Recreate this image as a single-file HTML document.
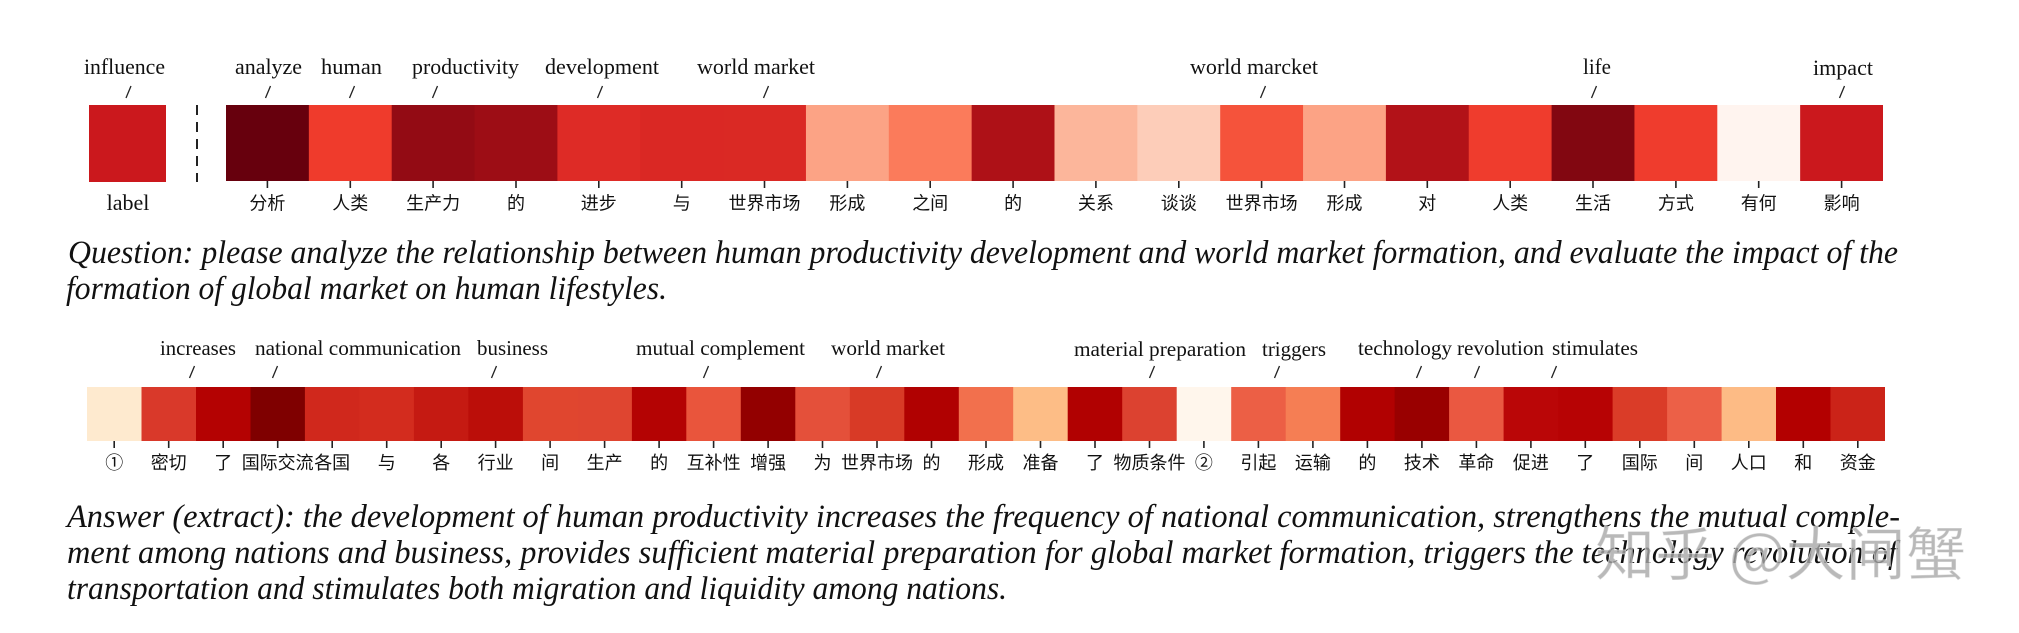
<!DOCTYPE html>
<html><head><meta charset="utf-8"><style>
html,body{margin:0;padding:0;background:#fff;}
svg{display:block;}
.lab{font-family:"Liberation Serif",serif;font-size:22px;fill:#111;}
.lab2{font-family:"Liberation Serif",serif;font-size:21px;fill:#111;}
.cn{font-family:"Liberation Sans","Noto Sans CJK SC",sans-serif;font-size:18px;fill:#111;text-anchor:middle;}
.main{font-family:"Liberation Serif",serif;font-style:italic;font-size:32.5px;fill:#111;}
.sl{stroke:#222;stroke-width:1.3;}
.tk{stroke:#222;stroke-width:1.6;}
</style></head><body>
<svg width="2019" height="633" viewBox="0 0 2019 633" xmlns="http://www.w3.org/2000/svg">
<rect width="2019" height="633" fill="#fff"/>

<text class="lab" x="84" y="74" textLength="81" lengthAdjust="spacingAndGlyphs">influence</text>
<text class="lab" x="235" y="74" textLength="67" lengthAdjust="spacingAndGlyphs">analyze</text>
<text class="lab" x="321" y="74" textLength="61" lengthAdjust="spacingAndGlyphs">human</text>
<text class="lab" x="412" y="74" textLength="107" lengthAdjust="spacingAndGlyphs">productivity</text>
<text class="lab" x="545" y="74" textLength="114" lengthAdjust="spacingAndGlyphs">development</text>
<text class="lab" x="697" y="74" textLength="118" lengthAdjust="spacingAndGlyphs">world market</text>
<text class="lab" x="1190" y="74" textLength="128" lengthAdjust="spacingAndGlyphs">world marcket</text>
<text class="lab" x="1583" y="74" textLength="28" lengthAdjust="spacingAndGlyphs">life</text>
<text class="lab" x="1813" y="75" textLength="60" lengthAdjust="spacingAndGlyphs">impact</text>

<g class="sl">
<line x1="131" y1="86" x2="126" y2="98"/>
<line x1="270.5" y1="86" x2="265.5" y2="98"/>
<line x1="354.5" y1="86" x2="349.5" y2="98"/>
<line x1="437.5" y1="86" x2="432.5" y2="98"/>
<line x1="602.5" y1="86" x2="597.5" y2="98"/>
<line x1="768.5" y1="86" x2="763.5" y2="98"/>
<line x1="1265.5" y1="86" x2="1260.5" y2="98"/>
<line x1="1596.5" y1="86" x2="1591.5" y2="98"/>
<line x1="1844.5" y1="86" x2="1839.5" y2="98"/>
</g>

<rect x="89" y="105" width="77" height="77" fill="#cb181d"/>
<line x1="197" y1="105" x2="197" y2="182" stroke="#222" stroke-width="2" stroke-dasharray="10,7"/>

<g>
<rect x="226" y="105" width="83.4" height="76" fill="#67000d"/>
<rect x="308.85" y="105" width="83.4" height="76" fill="#ef3b2c"/>
<rect x="391.7" y="105" width="83.4" height="76" fill="#930b14"/>
<rect x="474.55" y="105" width="83.4" height="76" fill="#9d0d15"/>
<rect x="557.4" y="105" width="83.4" height="76" fill="#de2b26"/>
<rect x="640.25" y="105" width="83.4" height="76" fill="#da2824"/>
<rect x="723.1" y="105" width="83.4" height="76" fill="#da2924"/>
<rect x="805.95" y="105" width="83.4" height="76" fill="#fca385"/>
<rect x="888.8" y="105" width="83.4" height="76" fill="#fb7b5b"/>
<rect x="971.65" y="105" width="83.4" height="76" fill="#ae1117"/>
<rect x="1054.5" y="105" width="83.4" height="76" fill="#fcb69b"/>
<rect x="1137.35" y="105" width="83.4" height="76" fill="#fdcdb9"/>
<rect x="1220.2" y="105" width="83.4" height="76" fill="#f5533b"/>
<rect x="1303.05" y="105" width="83.4" height="76" fill="#fca385"/>
<rect x="1385.9" y="105" width="83.4" height="76" fill="#b21218"/>
<rect x="1468.75" y="105" width="83.4" height="76" fill="#ef3c2d"/>
<rect x="1551.6" y="105" width="83.4" height="76" fill="#820711"/>
<rect x="1634.45" y="105" width="83.4" height="76" fill="#ef3c2d"/>
<rect x="1717.3" y="105" width="83.4" height="76" fill="#fff4ef"/>
<rect x="1800.15" y="105" width="82.85" height="76" fill="#cb181d"/>
</g>

<g class="tk">
<line x1="267.4" y1="181" x2="267.4" y2="188"/>
<line x1="350.3" y1="181" x2="350.3" y2="188"/>
<line x1="433.1" y1="181" x2="433.1" y2="188"/>
<line x1="516" y1="181" x2="516" y2="188"/>
<line x1="598.8" y1="181" x2="598.8" y2="188"/>
<line x1="681.7" y1="181" x2="681.7" y2="188"/>
<line x1="764.5" y1="181" x2="764.5" y2="188"/>
<line x1="847.4" y1="181" x2="847.4" y2="188"/>
<line x1="930.2" y1="181" x2="930.2" y2="188"/>
<line x1="1013.1" y1="181" x2="1013.1" y2="188"/>
<line x1="1095.9" y1="181" x2="1095.9" y2="188"/>
<line x1="1178.8" y1="181" x2="1178.8" y2="188"/>
<line x1="1261.6" y1="181" x2="1261.6" y2="188"/>
<line x1="1344.5" y1="181" x2="1344.5" y2="188"/>
<line x1="1427.3" y1="181" x2="1427.3" y2="188"/>
<line x1="1510.2" y1="181" x2="1510.2" y2="188"/>
<line x1="1593" y1="181" x2="1593" y2="188"/>
<line x1="1675.9" y1="181" x2="1675.9" y2="188"/>
<line x1="1758.7" y1="181" x2="1758.7" y2="188"/>
<line x1="1841.6" y1="181" x2="1841.6" y2="188"/>
</g>

<text class="lab" x="128" y="210" text-anchor="middle">label</text>
<g class="cn">
<text x="267.4" y="209.5">分析</text>
<text x="350.3" y="209.5">人类</text>
<text x="433.1" y="209.5">生产力</text>
<text x="516" y="209.5">的</text>
<text x="598.8" y="209.5">进步</text>
<text x="681.7" y="209.5">与</text>
<text x="764.5" y="209.5">世界市场</text>
<text x="847.4" y="209.5">形成</text>
<text x="930.2" y="209.5">之间</text>
<text x="1013.1" y="209.5">的</text>
<text x="1095.9" y="209.5">关系</text>
<text x="1178.8" y="209.5">谈谈</text>
<text x="1261.6" y="209.5">世界市场</text>
<text x="1344.5" y="209.5">形成</text>
<text x="1427.3" y="209.5">对</text>
<text x="1510.2" y="209.5">人类</text>
<text x="1593" y="209.5">生活</text>
<text x="1675.9" y="209.5">方式</text>
<text x="1758.7" y="209.5">有何</text>
<text x="1841.6" y="209.5">影响</text>
</g>

<text class="main" x="68" y="263" textLength="1830" lengthAdjust="spacingAndGlyphs">Question: please analyze the relationship between human productivity development and world market formation, and evaluate the impact of the</text>
<text class="main" x="66" y="299" textLength="601" lengthAdjust="spacingAndGlyphs">formation of global market on human lifestyles.</text>

<text class="lab2" x="160" y="355" textLength="76" lengthAdjust="spacingAndGlyphs">increases</text>
<text class="lab2" x="255" y="355" textLength="206" lengthAdjust="spacingAndGlyphs">national communication</text>
<text class="lab2" x="477" y="355" textLength="71" lengthAdjust="spacingAndGlyphs">business</text>
<text class="lab2" x="636" y="355" textLength="169" lengthAdjust="spacingAndGlyphs">mutual complement</text>
<text class="lab2" x="831" y="355" textLength="114" lengthAdjust="spacingAndGlyphs">world market</text>
<text class="lab2" x="1074" y="356" textLength="172" lengthAdjust="spacingAndGlyphs">material preparation</text>
<text class="lab2" x="1262" y="356" textLength="64" lengthAdjust="spacingAndGlyphs">triggers</text>
<text class="lab2" x="1358" y="355" textLength="94" lengthAdjust="spacingAndGlyphs">technology</text>
<text class="lab2" x="1457" y="355" textLength="87" lengthAdjust="spacingAndGlyphs">revolution</text>
<text class="lab2" x="1552" y="355" textLength="86" lengthAdjust="spacingAndGlyphs">stimulates</text>

<g class="sl">
<line x1="194.5" y1="366" x2="189.5" y2="378"/>
<line x1="277.5" y1="366" x2="272.5" y2="378"/>
<line x1="496.5" y1="366" x2="491.5" y2="378"/>
<line x1="708.5" y1="366" x2="703.5" y2="378"/>
<line x1="881.5" y1="366" x2="876.5" y2="378"/>
<line x1="1154.5" y1="366" x2="1149.5" y2="378"/>
<line x1="1279.5" y1="366" x2="1274.5" y2="378"/>
<line x1="1421.5" y1="366" x2="1416.5" y2="378"/>
<line x1="1479.5" y1="366" x2="1474.5" y2="378"/>
<line x1="1556.5" y1="366" x2="1551.5" y2="378"/>
</g>

<g>
<rect x="87" y="387" width="55" height="54" fill="#feeacf"/>
<rect x="141.5" y="387" width="55" height="54" fill="#d9392a"/>
<rect x="196" y="387" width="55" height="54" fill="#b40202"/>
<rect x="250.5" y="387" width="55" height="54" fill="#7f0000"/>
<rect x="304.9" y="387" width="55" height="54" fill="#d0281c"/>
<rect x="359.4" y="387" width="55" height="54" fill="#d32c1e"/>
<rect x="413.9" y="387" width="55" height="54" fill="#c51a12"/>
<rect x="468.4" y="387" width="55" height="54" fill="#bb0e09"/>
<rect x="522.9" y="387" width="55" height="54" fill="#e0462f"/>
<rect x="577.4" y="387" width="55" height="54" fill="#df4530"/>
<rect x="631.9" y="387" width="55" height="54" fill="#b40303"/>
<rect x="686.3" y="387" width="55" height="54" fill="#e9553c"/>
<rect x="740.8" y="387" width="55" height="54" fill="#930000"/>
<rect x="795.3" y="387" width="55" height="54" fill="#e4503a"/>
<rect x="849.8" y="387" width="55" height="54" fill="#d83a26"/>
<rect x="904.3" y="387" width="55" height="54" fill="#b00101"/>
<rect x="958.8" y="387" width="55" height="54" fill="#f2704d"/>
<rect x="1013.2" y="387" width="55" height="54" fill="#fdbd86"/>
<rect x="1067.7" y="387" width="55" height="54" fill="#b10101"/>
<rect x="1122.2" y="387" width="55" height="54" fill="#dc4230"/>
<rect x="1176.7" y="387" width="55" height="54" fill="#fff6ec"/>
<rect x="1231.2" y="387" width="55" height="54" fill="#ec5f45"/>
<rect x="1285.7" y="387" width="55" height="54" fill="#f57e54"/>
<rect x="1340.2" y="387" width="55" height="54" fill="#b10101"/>
<rect x="1394.6" y="387" width="55" height="54" fill="#990000"/>
<rect x="1449.1" y="387" width="55" height="54" fill="#ea5841"/>
<rect x="1503.6" y="387" width="55" height="54" fill="#ba0607"/>
<rect x="1558.1" y="387" width="55" height="54" fill="#b70304"/>
<rect x="1612.6" y="387" width="55" height="54" fill="#da3c28"/>
<rect x="1667.1" y="387" width="55" height="54" fill="#ec6047"/>
<rect x="1721.6" y="387" width="55" height="54" fill="#fdbb85"/>
<rect x="1776" y="387" width="55" height="54" fill="#b30000"/>
<rect x="1830.5" y="387" width="54.5" height="54" fill="#cb2318"/>
</g>

<g class="tk">
<line x1="114.2" y1="441" x2="114.2" y2="448"/>
<line x1="168.7" y1="441" x2="168.7" y2="448"/>
<line x1="223.2" y1="441" x2="223.2" y2="448"/>
<line x1="277.7" y1="441" x2="277.7" y2="448"/>
<line x1="332.2" y1="441" x2="332.2" y2="448"/>
<line x1="386.7" y1="441" x2="386.7" y2="448"/>
<line x1="441.2" y1="441" x2="441.2" y2="448"/>
<line x1="495.6" y1="441" x2="495.6" y2="448"/>
<line x1="550.1" y1="441" x2="550.1" y2="448"/>
<line x1="604.6" y1="441" x2="604.6" y2="448"/>
<line x1="659.1" y1="441" x2="659.1" y2="448"/>
<line x1="713.6" y1="441" x2="713.6" y2="448"/>
<line x1="768.1" y1="441" x2="768.1" y2="448"/>
<line x1="822.5" y1="441" x2="822.5" y2="448"/>
<line x1="877" y1="441" x2="877" y2="448"/>
<line x1="931.5" y1="441" x2="931.5" y2="448"/>
<line x1="986" y1="441" x2="986" y2="448"/>
<line x1="1040.5" y1="441" x2="1040.5" y2="448"/>
<line x1="1095" y1="441" x2="1095" y2="448"/>
<line x1="1149.5" y1="441" x2="1149.5" y2="448"/>
<line x1="1203.9" y1="441" x2="1203.9" y2="448"/>
<line x1="1258.4" y1="441" x2="1258.4" y2="448"/>
<line x1="1312.9" y1="441" x2="1312.9" y2="448"/>
<line x1="1367.4" y1="441" x2="1367.4" y2="448"/>
<line x1="1421.9" y1="441" x2="1421.9" y2="448"/>
<line x1="1476.4" y1="441" x2="1476.4" y2="448"/>
<line x1="1530.9" y1="441" x2="1530.9" y2="448"/>
<line x1="1585.3" y1="441" x2="1585.3" y2="448"/>
<line x1="1639.8" y1="441" x2="1639.8" y2="448"/>
<line x1="1694.3" y1="441" x2="1694.3" y2="448"/>
<line x1="1748.8" y1="441" x2="1748.8" y2="448"/>
<line x1="1803.3" y1="441" x2="1803.3" y2="448"/>
<line x1="1857.8" y1="441" x2="1857.8" y2="448"/>
</g>

<g class="cn">
<text x="114.2" y="469">①</text>
<text x="168.7" y="469">密切</text>
<text x="223.2" y="469">了</text>
<text x="277.7" y="469">国际交流</text>
<text x="332.2" y="469">各国</text>
<text x="386.7" y="469">与</text>
<text x="441.2" y="469">各</text>
<text x="495.6" y="469">行业</text>
<text x="550.1" y="469">间</text>
<text x="604.6" y="469">生产</text>
<text x="659.1" y="469">的</text>
<text x="713.6" y="469">互补性</text>
<text x="768.1" y="469">增强</text>
<text x="822.5" y="469">为</text>
<text x="877" y="469">世界市场</text>
<text x="931.5" y="469">的</text>
<text x="986" y="469">形成</text>
<text x="1040.5" y="469">准备</text>
<text x="1095" y="469">了</text>
<text x="1149.5" y="469">物质条件</text>
<text x="1203.9" y="469">②</text>
<text x="1258.4" y="469">引起</text>
<text x="1312.9" y="469">运输</text>
<text x="1367.4" y="469">的</text>
<text x="1421.9" y="469">技术</text>
<text x="1476.4" y="469">革命</text>
<text x="1530.9" y="469">促进</text>
<text x="1585.3" y="469">了</text>
<text x="1639.8" y="469">国际</text>
<text x="1694.3" y="469">间</text>
<text x="1748.8" y="469">人口</text>
<text x="1803.3" y="469">和</text>
<text x="1857.8" y="469">资金</text>
</g>

<text class="main" x="67" y="527" textLength="1833" lengthAdjust="spacingAndGlyphs">Answer (extract):  the development of human productivity increases the frequency of national communication, strengthens the mutual comple-</text>
<text class="main" x="67" y="563" textLength="1830" lengthAdjust="spacingAndGlyphs">ment among nations and business, provides sufficient material preparation for global market formation, triggers the technology revolution of</text>
<text class="main" x="67" y="599" textLength="940" lengthAdjust="spacingAndGlyphs">transportation and stimulates both migration and liquidity among nations.</text>

<text x="1595" y="575" font-family="'Noto Sans CJK SC','Liberation Sans',sans-serif" font-size="58" fill="#a8a8a8" fill-opacity="0.8" stroke="#ffffff" stroke-opacity="0.5" stroke-width="1" textLength="371" lengthAdjust="spacingAndGlyphs">知乎 @大闸蟹</text>
</svg>
</body></html>
